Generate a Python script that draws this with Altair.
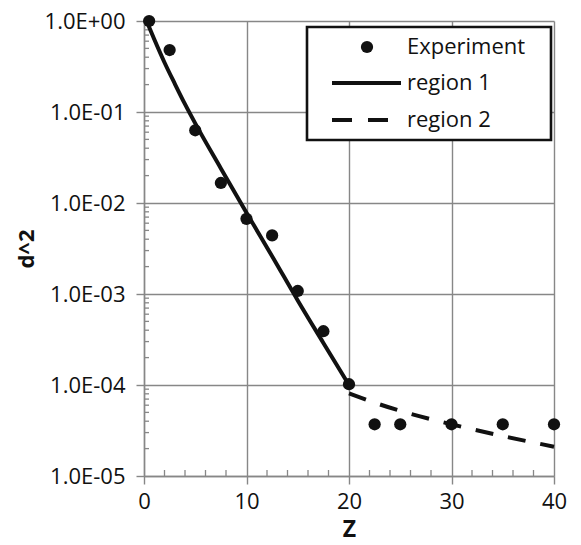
import altair as alt
import pandas as pd

# Measured attenuation d^2 versus depth z
exp_z = [0.5, 2.5, 5, 7.5, 10, 12.5, 15, 17.5, 20, 22.5, 25, 30, 35, 40]
exp_d2 = [1.0, 0.48, 0.063, 0.0166, 0.0067, 0.0044, 0.00108, 0.00039,
          0.000102, 3.7e-5, 3.7e-5, 3.7e-5, 3.7e-5, 3.7e-5]

# Model curve, region 1 (steep decay)
r1_z = [0.25, 1, 2, 3, 4, 5, 7.5, 10, 12.5, 15, 17.5, 20]
r1_d2 = [1.0, 0.63, 0.35, 0.205, 0.122, 0.075, 0.024, 0.0078, 0.0026,
         0.00085, 0.00029, 0.0001]

# Model curve, region 2 (slow tail)
r2_z = [20, 22.5, 25, 30, 35, 40]
r2_d2 = [8.1e-5, 6.4e-5, 5.2e-5, 3.7e-5, 2.75e-5, 2.1e-5]

series_names = ["Experiment", "region 1", "region 2"]

x_major = [0, 10, 20, 30, 40]
x_minor = [2, 4, 6, 8, 12, 14, 16, 18, 22, 24, 26, 28, 32, 34, 36, 38]
y_major = [1.0, 0.1, 0.01, 0.001, 0.0001, 0.00001]
y_minor = [m * 10.0 ** k for k in range(-5, 0) for m in range(2, 10)]

FONT = "Open Sans"
INK = "#111111"
GRID = "#878787"
W, H = 410, 455
LW = 4.0

exp_df = pd.DataFrame({"z": exp_z, "d2": exp_d2})
r1_df = pd.DataFrame({"z": r1_z, "d2": r1_d2})
r2_df = pd.DataFrame({"z": r2_z, "d2": r2_d2})

x_scale = alt.Scale(domain=[0, 40], nice=False, zero=False)
y_scale = alt.Scale(type="log", domain=[1e-5, 1], nice=False)

x_enc = alt.X(
    "z:Q", scale=x_scale,
    axis=alt.Axis(
        values=x_major, title="Z", grid=True, tickSize=8, labelPadding=7,
        titleFontWeight="bold", titleFontSize=23, titleBaseline="alphabetic",
        titleY=60, titleX=W / 2, titleAlign="center",
    ),
)
y_enc = alt.Y(
    "d2:Q", scale=y_scale,
    axis=alt.Axis(
        values=y_major, title="d^2", grid=True, tickSize=8, labelPadding=11,
        labelExpr="'1.0E' + (datum.value >= 1 ? '+00' : '-0' + round(-log(datum.value) / LN10))",
        titleFontWeight="bold", titleFontSize=22, titleAngle=270,
        titleBaseline="alphabetic", titleAlign="center",
        titleX=-111, titleY=H / 2,
    ),
)

points = alt.Chart(exp_df).mark_point(
    filled=True, size=150, color=INK, opacity=1
).encode(x=x_enc, y=y_enc)

line1 = alt.Chart(r1_df).mark_line(
    color=INK, strokeWidth=LW, interpolate="monotone"
).encode(x="z:Q", y="d2:Q")

line2 = alt.Chart(r2_df).mark_line(
    color=INK, strokeWidth=LW, strokeDash=[18, 15], interpolate="monotone"
).encode(x="z:Q", y="d2:Q")

# Minor ticks drawn inward from the axes
y_minor_ticks = alt.Chart(pd.DataFrame({"d2": y_minor})).mark_rule(
    color=GRID, strokeWidth=1.3
).encode(y="d2:Q", x=alt.value(0), x2=alt.value(5))

x_minor_ticks = alt.Chart(pd.DataFrame({"z": x_minor})).mark_rule(
    color=GRID, strokeWidth=1.3
).encode(x="z:Q", y=alt.value(H), y2=alt.value(H - 6))

# Legend box with its three entries
one = pd.DataFrame({"k": [0]})
leg_box = alt.Chart(one).mark_rect(
    fill="white", stroke=INK, strokeWidth=2.6
).encode(x=alt.value(163), x2=alt.value(407), y=alt.value(6), y2=alt.value(119))

leg_dot = alt.Chart(one).mark_point(
    filled=True, size=150, color=INK, opacity=1
).encode(x=alt.value(223), y=alt.value(26))

leg_l1 = alt.Chart(one).mark_rule(color=INK, strokeWidth=LW).encode(
    x=alt.value(188), x2=alt.value(257), y=alt.value(62))

leg_l2 = alt.Chart(one).mark_rule(
    color=INK, strokeWidth=LW, strokeDash=[20, 16]
).encode(x=alt.value(188), x2=alt.value(244), y=alt.value(99))

leg_text = []
for name, ypos in zip(series_names, [26, 62, 99]):
    leg_text.append(
        alt.Chart(pd.DataFrame({"label": [name]})).mark_text(
            align="left", baseline="middle", font=FONT, fontSize=22, color=INK
        ).encode(x=alt.value(263), y=alt.value(ypos), text="label:N")
    )

chart = alt.layer(
    y_minor_ticks, x_minor_ticks, line1, line2, points,
    leg_box, leg_dot, leg_l1, leg_l2, *leg_text,
).properties(
    width=W, height=H,
    autosize=alt.AutoSizeParams(type="none"),
    padding={"left": 144, "top": 21, "right": 27, "bottom": 69},
    background="white",
).configure_view(
    stroke=None
).configure_axis(
    labelFont=FONT, titleFont=FONT, labelFontSize=22,
    labelColor=INK, titleColor=INK,
    gridColor=GRID, gridWidth=1.4, gridOpacity=1,
    domainColor=GRID, domainWidth=1.4,
    tickColor=GRID, tickWidth=1.4,
    labelFlush=False, labelOverlap=False,
)

chart.save("out.html", embed_options={"renderer": "svg", "actions": False})
